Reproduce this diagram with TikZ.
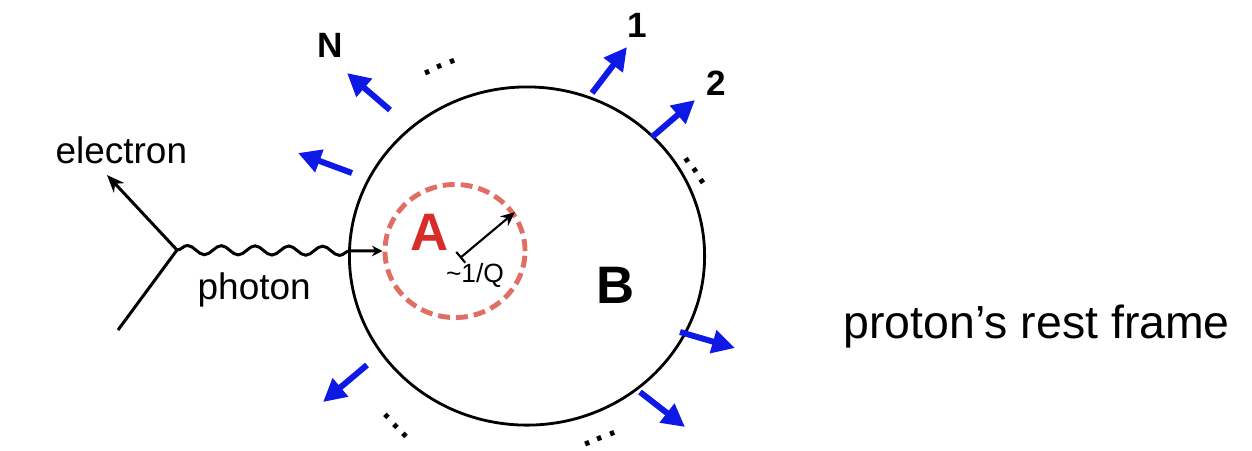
\documentclass[tikz,border=0pt]{standalone}
\usepackage{fontspec}
\setmainfont{Liberation Sans}
\usetikzlibrary{arrows.meta,decorations.pathmorphing,shapes.geometric}

\definecolor{jetblue}{RGB}{15,25,230}
\definecolor{hardred}{RGB}{215,45,40}
\definecolor{dashred}{RGB}{225,110,100}

\begin{document}
\begin{tikzpicture}[x=0.01cm,y=-0.01cm,
			lbl/.style={inner sep=0pt,anchor=base},
			small/.style={lbl,font=\fontsize{10.5}{12}\selectfont},
			num/.style={lbl,font=\bfseries\fontsize{10}{12}\selectfont},
			big/.style={lbl,font=\bfseries\fontsize{15}{18}\selectfont},
			dots/.style={inner sep=0pt,font=\fontsize{13.5}{15}\selectfont},
			hadron/.style={draw=jetblue,line width=1.7pt,-{Triangle[length=6.5pt,width=6.5pt]}},
			lepton/.style={line width=0.85pt},
			photon/.style={line width=0.85pt,decorate,
				decoration={snake,amplitude=1.3pt,segment length=9.6pt,post length=5pt}}]
			
			\useasboundingbox (0,0) rectangle (1252,450);
			
			% Proton and the hard region inside it
			\node[ellipse,draw,line width=0.8pt,minimum width=3.55cm,minimum height=3.38cm] (proton) at (527,256) {};
			\node[ellipse,draw=dashred,line width=1.4pt,dash pattern=on 3.4pt off 1.7pt,
				minimum width=1.40cm,minimum height=1.33cm] (hard) at (455,251) {};
			\node[big,text=hardred] (A) at (430,250) {A};
			\node[big] (B) at (616,303) {B};
			
			% Size of the hard region
			\coordinate (rq) at (460,258);
			\draw[line width=0.6pt,{Bar[width=4pt]}-{Stealth[length=4pt,width=3.5pt]}] (rq) -- (hard.33);
			\node[lbl,font=\fontsize{7.5}{9}\selectfont] (size) at (475,282) {\textasciitilde1/Q};
			
			% Electron vertex and photon
			\coordinate (vtx) at (177,250);
			\coordinate (ein) at (118,330);
			\coordinate (eout) at (107,175);
			\draw[lepton] (ein) -- (vtx);
			\draw[lepton,-{Stealth[length=5pt,width=4pt]}] (vtx) -- (eout);
			\draw[photon,-{Stealth[length=3pt,width=3pt]}] (vtx) -- (hard.west);
			\node[small,anchor=base west] (electron) at (55,163) {electron};
			\node[small,anchor=base west] (gamma) at (197,299) {photon};
			
			% Outgoing particles
			\foreach \i/\sx/\sy/\ex/\ey in {1/592/93/627/47,2/652/137/695/100,3/680/332/735/348,
				4/640/392/685/427,5/367/365/323/402,6/352/173/298/153,7/390/110/347/73}{
				\coordinate (s\i) at (\sx,\sy);
				\coordinate (e\i) at (\ex,\ey);
				\draw[hadron] (s\i) -- (e\i);
			}
			\node[num] (n1) at (637,37) {1};
			\node[num] (n2) at (716,95) {2};
			\node[num] (nN) at (330,57) {N};
			
			% Dots between them
			\foreach \i/\x/\y/\a in {1/440/67/23,2/695/171/-56,3/396/426/-45,4/600/439/22}{
				\node[dots,rotate=\a] (d\i) at (\x,\y) {...};
			}
			
			\node[lbl,anchor=base west,font=\fontsize{13.2}{16}\selectfont] (frame) at (843,338) {proton’s rest frame};
			
		\end{tikzpicture}
\end{document}
